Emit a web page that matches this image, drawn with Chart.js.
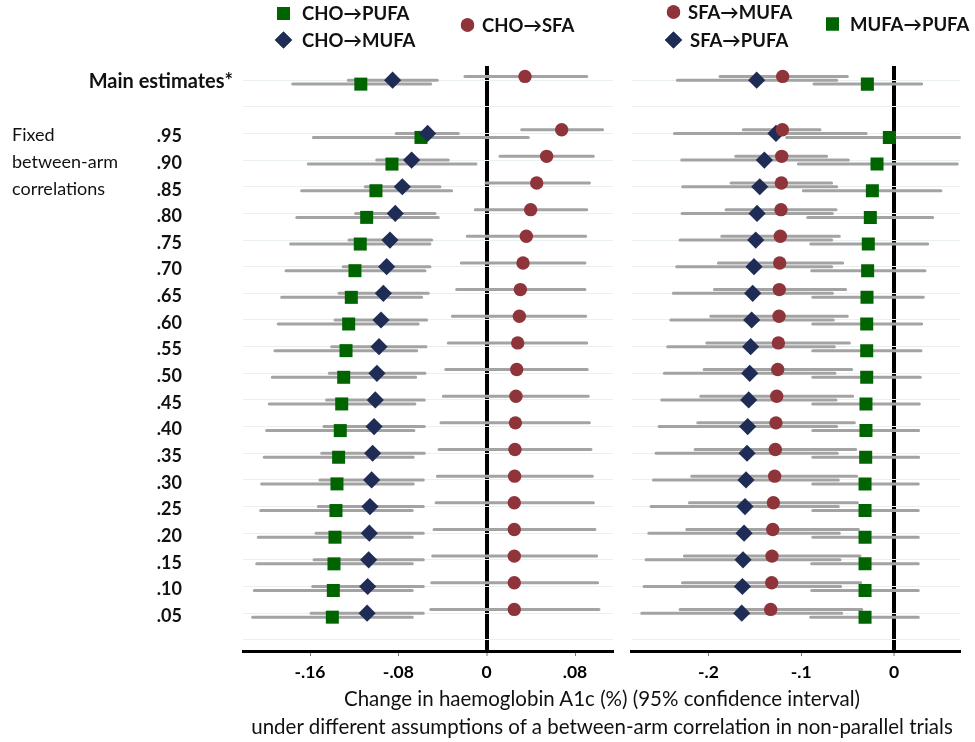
<!DOCTYPE html>
<html><head><meta charset="utf-8">
<script src="https://cdn.jsdelivr.net/npm/chart.js@4.4.1/dist/chart.umd.min.js"></script>
<style>
html,body{margin:0;padding:0;background:#fff;}
#wrap{position:relative;width:975px;height:742px;overflow:hidden;}
canvas{position:absolute;left:0;top:0;}
#title{position:absolute;left:602px;top:684px;transform:translateX(-50%);white-space:nowrap;text-align:center;
 font-family:Lato,'Open Sans',sans-serif;font-size:20.5px;line-height:28px;color:#111;}
</style></head>
<body><div id="wrap">
<canvas id="c1" width="975" height="742"></canvas>
<canvas id="c2" width="975" height="742"></canvas>
<div id="title">Change in haemoglobin A1c (%) (95% confidence interval)<br>under different assumptions of a between-arm correlation in non-parallel trials</div>
</div>
<script>
// ---------- DATA ----------
const rowLabels = ['Main estimates*','.95','.90','.85','.80','.75','.70','.65','.60','.55','.50','.45','.40','.35','.30','.25','.20','.15','.10','.05'];
const groupLabel = ['Fixed','between-arm','correlations'];
const leftTicks = [-0.16,-0.08,0,0.08];
const leftTickLabels = ['-.16','-.08','0','.08'];
const rightTicks = [-0.2,-0.1,0];
const rightTickLabels = ['-.2','-.1','0'];

// Left panel
const choSfaEst = [0.0347,0.0679,0.0543,0.0453,0.0398,0.0359,0.0329,0.0305,0.0296,0.0281,0.0272,0.0265,0.0260,0.0256,0.0253,0.0250,0.0250,0.0250,0.0250,0.0250];
const choSfaLo  = [-0.0197,0.0317,0.0120,-0.0006,-0.0103,-0.0176,-0.0230,-0.0272,-0.0311,-0.0348,-0.0371,-0.0393,-0.0414,-0.0432,-0.0447,-0.0459,-0.0477,-0.0489,-0.0498,-0.0507];
const choSfaHi  = [0.0906,0.1050,0.0966,0.0930,0.0906,0.0897,0.0890,0.0890,0.0897,0.0906,0.0911,0.0920,0.0930,0.0945,0.0957,0.0966,0.0981,0.0996,0.1005,0.1017];

const choMufaEst = [-0.0852,-0.0535,-0.0680,-0.0764,-0.0828,-0.0876,-0.0906,-0.0936,-0.0957,-0.0975,-0.0994,-0.1009,-0.1020,-0.1033,-0.1042,-0.1057,-0.1063,-0.1069,-0.1078,-0.1083];
const choMufaLo  = [-0.1254,-0.0820,-0.0996,-0.1100,-0.1187,-0.1247,-0.1300,-0.1338,-0.1374,-0.1404,-0.1426,-0.1450,-0.1474,-0.1495,-0.1510,-0.1525,-0.1546,-0.1564,-0.1576,-0.1591];
const choMufaHi  = [-0.0447,-0.0257,-0.0348,-0.0423,-0.0468,-0.0498,-0.0514,-0.0529,-0.0544,-0.0550,-0.0559,-0.0565,-0.0565,-0.0565,-0.0574,-0.0574,-0.0574,-0.0574,-0.0574,-0.0574];

const choPufaEst = [-0.1140,-0.0595,-0.0858,-0.1003,-0.1087,-0.1145,-0.1193,-0.1226,-0.1250,-0.1274,-0.1295,-0.1313,-0.1326,-0.1341,-0.1356,-0.1365,-0.1374,-0.1383,-0.1389,-0.1398];
const choPufaLo  = [-0.1757,-0.1570,-0.1616,-0.1676,-0.1720,-0.1776,-0.1818,-0.1857,-0.1888,-0.1918,-0.1942,-0.1969,-0.1993,-0.2015,-0.2038,-0.2047,-0.2069,-0.2083,-0.2105,-0.2120];
const choPufaHi  = [-0.0507,0.0377,-0.0097,-0.0317,-0.0438,-0.0514,-0.0559,-0.0589,-0.0620,-0.0634,-0.0643,-0.0650,-0.0659,-0.0665,-0.0665,-0.0674,-0.0674,-0.0674,-0.0674,-0.0674];

// Right panel
const sfaMufaEst = [-0.1200,-0.1203,-0.1210,-0.1214,-0.1218,-0.1225,-0.1232,-0.1236,-0.1239,-0.1246,-0.1253,-0.1264,-0.1272,-0.1279,-0.1286,-0.1300,-0.1307,-0.1315,-0.1318,-0.1329];
const sfaMufaLo  = [-0.1875,-0.1624,-0.1706,-0.1756,-0.1810,-0.1857,-0.1893,-0.1936,-0.1975,-0.2018,-0.2047,-0.2083,-0.2115,-0.2144,-0.2180,-0.2205,-0.2234,-0.2259,-0.2280,-0.2306];
const sfaMufaHi  = [-0.0503,-0.0797,-0.0726,-0.0672,-0.0625,-0.0589,-0.0553,-0.0521,-0.0503,-0.0481,-0.0456,-0.0445,-0.0427,-0.0413,-0.0402,-0.0395,-0.0384,-0.0366,-0.0359,-0.0348];

const sfaPufaEst = [-0.1480,-0.1272,-0.1397,-0.1447,-0.1476,-0.1490,-0.1509,-0.1523,-0.1534,-0.1545,-0.1555,-0.1566,-0.1577,-0.1584,-0.1595,-0.1606,-0.1616,-0.1627,-0.1634,-0.1641];
const sfaPufaLo  = [-0.2335,-0.2367,-0.2288,-0.2277,-0.2284,-0.2306,-0.2342,-0.2378,-0.2406,-0.2439,-0.2475,-0.2503,-0.2532,-0.2565,-0.2593,-0.2618,-0.2643,-0.2672,-0.2694,-0.2719];
const sfaPufaHi  = [-0.0618,-0.0300,-0.0492,-0.0618,-0.0664,-0.0672,-0.0672,-0.0664,-0.0654,-0.0643,-0.0636,-0.0625,-0.0618,-0.0611,-0.0600,-0.0600,-0.0589,-0.0582,-0.0575,-0.0564];

const mufaPufaEst = [-0.0287,-0.0050,-0.0183,-0.0233,-0.0255,-0.0277,-0.0284,-0.0291,-0.0294,-0.0294,-0.0294,-0.0302,-0.0302,-0.0305,-0.0312,-0.0312,-0.0312,-0.0312,-0.0312,-0.0312];
const mufaPufaLo  = [-0.0862,-0.1157,-0.1031,-0.0977,-0.0930,-0.0898,-0.0887,-0.0876,-0.0876,-0.0876,-0.0876,-0.0876,-0.0876,-0.0876,-0.0876,-0.0876,-0.0876,-0.0887,-0.0887,-0.0898];
const mufaPufaHi  = [0.0298,0.0800,0.0682,0.0506,0.0417,0.0363,0.0334,0.0316,0.0298,0.0291,0.0284,0.0273,0.0266,0.0266,0.0262,0.0262,0.0262,0.0262,0.0262,0.0262];

// ---------- STYLE / BUILD ----------
const FONT = 'Lato, "Open Sans", "DejaVu Sans", sans-serif';
const GREEN = '#006400', NAVY = '#1f2d56', RED = '#8f343b', CI = '#a3a3a3';
const rowPos = i => (i === 0 ? 0 : i + 1);

const STYLES = {
  circle: {pointStyle:'circle', radius:6.7, color:RED, off:-0.14},
  diamond:{pointStyle:'rectRot', radius:8.6, color:NAVY, off:0},
  square: {pointStyle:'rect', radius:9.2, color:GREEN, off:0.15}
};

function buildSets(series){
  const pts = [], lines = [];
  series.forEach(s => {
    const st = STYLES[s.shape];
    const ptData = s.est.map((v,i) => ({x:v, y:rowPos(i)+st.off}));
    const lnData = [];
    s.lo.forEach((lo,i) => {
      const y = rowPos(i)+st.off;
      lnData.push({x:lo,y:y},{x:s.hi[i],y:y},{x:null,y:null});
    });
    lines.push({type:'line', label:s.name+' CI', data:lnData, borderColor:CI, borderWidth:3,
      pointRadius:0, spanGaps:false, borderCapStyle:'round', fill:false, order:2, tension:0});
    pts.push({type:'scatter', label:s.name, data:ptData, pointStyle:st.pointStyle, pointRadius:st.radius,
      backgroundColor:st.color, borderColor:st.color, borderWidth:0, showLine:false, order:1});
  });
  return pts.concat(lines);
}

const leftSets = buildSets([
  {name:'CHO→SFA', shape:'circle', est:choSfaEst, lo:choSfaLo, hi:choSfaHi},
  {name:'CHO→MUFA', shape:'diamond', est:choMufaEst, lo:choMufaLo, hi:choMufaHi},
  {name:'CHO→PUFA', shape:'square', est:choPufaEst, lo:choPufaLo, hi:choPufaHi}
]);
const rightSets = buildSets([
  {name:'SFA→MUFA', shape:'circle', est:sfaMufaEst, lo:sfaMufaLo, hi:sfaMufaHi},
  {name:'SFA→PUFA', shape:'diamond', est:sfaPufaEst, lo:sfaPufaLo, hi:sfaPufaHi},
  {name:'MUFA→PUFA', shape:'square', est:mufaPufaEst, lo:mufaPufaLo, hi:mufaPufaHi}
]);

const labelsPlugin = {
  id:'rowLabels',
  afterDraw(chart){
    const ctx = chart.ctx, ys = chart.scales.y;
    ctx.save();
    ctx.fillStyle = '#111';
    ctx.textBaseline = 'middle';
    ctx.textAlign = 'right';
    rowLabels.forEach((t,i) => {
      const y = ys.getPixelForValue(rowPos(i)) + (i===0 ? 1 : 3);
      ctx.font = (i===0 ? 'bold 20px ' : 'bold 18px ') + FONT;
      ctx.fillText(t, i===0 ? 233 : 182, y);
    });
    ctx.font = '18px ' + FONT;
    ctx.textAlign = 'left';
    groupLabel.forEach((t,i) => {
      ctx.fillText(t, 12, ys.getPixelForValue(rowPos(i+1)) + 2);
    });
    // legend
    const leg = [
      {t:'CHO→PUFA', s:'square', mx:283.5, my:13.5, tx:302},
      {t:'CHO→MUFA', s:'diamond', mx:283.5, my:40, tx:302},
      {t:'CHO→SFA', s:'circle', mx:467.5, my:25, tx:482},
      {t:'SFA→MUFA', s:'circle', mx:673.5, my:12, tx:688},
      {t:'SFA→PUFA', s:'diamond', mx:673.5, my:40, tx:690},
      {t:'MUFA→PUFA', s:'square', mx:832.5, my:24, tx:850}
    ];
    ctx.font = 'bold 18.5px ' + FONT;
    leg.forEach(l => {
      const st = STYLES[l.s];
      ctx.fillStyle = st.color;
      Chart.helpers.drawPoint(ctx, {pointStyle:st.pointStyle, radius:st.radius, rotation:0, borderWidth:0}, l.mx, l.my);
      ctx.fill();
      ctx.fillStyle = '#111';
      ctx.fillText(l.t, l.tx, l.my + 1);
    });
    ctx.restore();
  }
};

function makeChart(id, sets, xmin, xmax, ticks, tickLabels, padL, padR, plugins){
  return new Chart(document.getElementById(id), {
    type:'scatter',
    data:{datasets:sets},
    options:{
      responsive:false, animation:false,
      layout:{padding:{left:padL, right:padR, top:66, bottom:0}},
      plugins:{legend:{display:false}, tooltip:{enabled:false}},
      scales:{
        x:{type:'linear', min:xmin, max:xmax,
          afterBuildTicks:s => { s.ticks = ticks.map(v => ({value:v})); },
          afterFit:s => { s.height = 91; },
          ticks:{callback:(v,i) => tickLabels[i], font:{family:FONT, size:17.5, weight:'bold'}, color:'#000',
                 padding:6, maxRotation:0, autoSkip:false},
          grid:{color:c => (c.tick && c.tick.value === 0) ? '#000' : 'rgba(0,0,0,0)',
                lineWidth:c => (c.tick && c.tick.value === 0) ? 4 : 1,
                drawTicks:true, tickLength:5, tickColor:'#777', tickWidth:1},
          border:{display:true, color:'#000', width:3}
        },
        y:{type:'linear', reverse:true, min:-0.53, max:21.42,
          afterBuildTicks:s => { s.ticks = Array.from({length:22}, (_,k) => ({value:k})); },
          afterFit:s => { s.width = 0; },
          ticks:{display:false},
          grid:{color:'#e8f0f0', lineWidth:1, drawTicks:false},
          border:{display:false}
        }
      }
    },
    plugins:plugins
  });
}

makeChart('c1', leftSets, -0.2207, 0.1144, leftTicks, leftTickLabels, 243, 362, [labelsPlugin]);
makeChart('c2', rightSets, -0.2827, 0.0719, rightTicks, rightTickLabels, 631.7, 14.3, []);
</script>
</body></html>
